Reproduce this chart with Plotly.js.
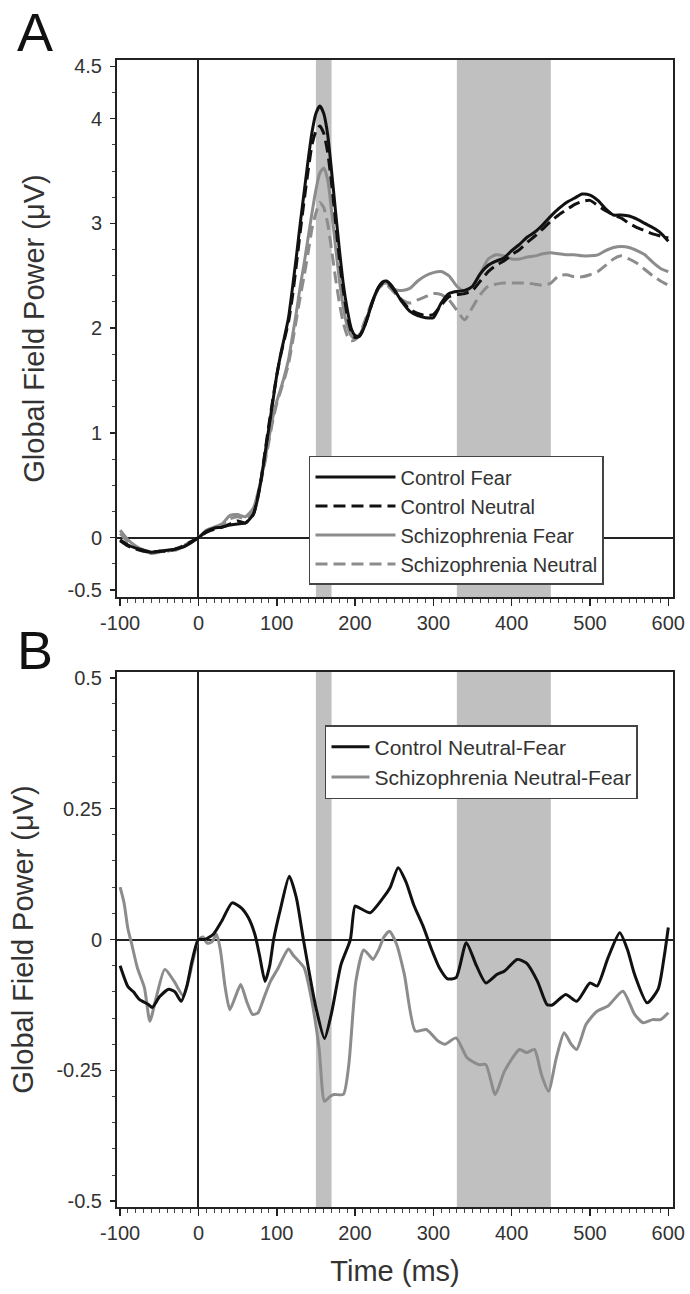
<!DOCTYPE html>
<html>
<head>
<meta charset="utf-8">
<script src="https://cdn.plot.ly/plotly-3.0.1.min.js"></script>
<style>
  html, body { margin: 0; padding: 0; background: #fff; }
  #chart { width: 690px; height: 1294px; }
</style>
</head>
<body>
<div id="chart"></div>
<script>
// ---------- Panel A data (time in ms, GFP in µV) ----------
const timeA = [
  -100,-90,-80,-70,-60,-50,-40,-30,-20,-10,
  0,10,20,30,40,50,60,70,
  75,80,85,90,95,100,105,110,115,120,
  125,130,135,140,145,150,155,160,165,170,
  175,180,185,190,195,200,205,210,215,220,
  225,230,235,240,245,250,
  260,270,280,290,300,310,320,330,340,350,
  360,370,380,390,400,410,420,430,440,450,
  460,470,480,490,500,510,520,530,540,550,
  560,570,580,590,600
];
const controlFear = [
  -0.02,-0.07,-0.10,-0.12,-0.14,-0.13,-0.12,-0.11,-0.09,-0.05,
  0.00,0.06,0.09,0.10,0.12,0.13,0.14,0.22,
  0.35,0.55,0.80,1.05,1.30,1.55,1.75,1.92,2.10,2.38,
  2.68,3.00,3.30,3.60,3.87,4.05,4.12,4.05,3.85,3.50,
  3.12,2.75,2.42,2.18,2.00,1.93,1.92,1.98,2.08,2.20,
  2.31,2.39,2.44,2.45,2.42,2.37,
  2.25,2.16,2.12,2.10,2.10,2.24,2.33,2.35,2.36,2.40,
  2.52,2.60,2.64,2.67,2.74,2.80,2.87,2.92,2.99,3.07,
  3.14,3.20,3.24,3.28,3.27,3.22,3.14,3.08,3.08,3.07,
  3.04,3.00,2.96,2.91,2.83
];
const controlNeutral = [
  -0.03,-0.08,-0.11,-0.13,-0.14,-0.13,-0.13,-0.11,-0.08,-0.04,
  0.00,0.05,0.08,0.10,0.13,0.16,0.14,0.22,
  0.36,0.56,0.82,1.08,1.32,1.55,1.74,1.90,2.06,2.30,
  2.60,2.92,3.22,3.50,3.75,3.88,3.93,3.86,3.68,3.38,
  3.02,2.66,2.36,2.12,1.97,1.91,1.92,1.98,2.08,2.20,
  2.31,2.39,2.43,2.44,2.41,2.36,
  2.26,2.18,2.14,2.12,2.13,2.22,2.30,2.32,2.33,2.36,
  2.45,2.54,2.60,2.64,2.70,2.75,2.82,2.88,2.95,3.02,
  3.08,3.13,3.18,3.21,3.22,3.17,3.12,3.08,3.05,3.00,
  2.96,2.93,2.90,2.88,2.86
];
const schizFear = [
  0.07,-0.02,-0.08,-0.12,-0.15,-0.14,-0.12,-0.12,-0.09,-0.05,
  0.00,0.07,0.10,0.13,0.21,0.22,0.20,0.28,
  0.40,0.56,0.75,0.95,1.15,1.30,1.42,1.55,1.70,1.92,
  2.15,2.40,2.62,2.86,3.10,3.32,3.48,3.53,3.42,3.12,
  2.78,2.46,2.20,2.02,1.93,1.90,1.92,2.00,2.10,2.20,
  2.30,2.38,2.42,2.43,2.40,2.37,
  2.36,2.38,2.45,2.50,2.53,2.54,2.50,2.40,2.35,2.40,
  2.52,2.66,2.70,2.69,2.66,2.66,2.68,2.69,2.71,2.72,
  2.71,2.70,2.70,2.69,2.69,2.70,2.74,2.77,2.78,2.77,
  2.74,2.70,2.63,2.57,2.54
];
const schizNeutral = [
  0.04,-0.04,-0.09,-0.13,-0.15,-0.13,-0.13,-0.11,-0.08,-0.04,
  0.00,0.06,0.09,0.12,0.18,0.20,0.18,0.26,
  0.38,0.54,0.72,0.92,1.12,1.28,1.40,1.52,1.66,1.86,
  2.08,2.30,2.50,2.72,2.95,3.10,3.20,3.15,3.00,2.75,
  2.48,2.24,2.05,1.93,1.88,1.89,1.93,2.02,2.12,2.22,
  2.31,2.38,2.41,2.42,2.38,2.34,
  2.27,2.24,2.27,2.30,2.33,2.32,2.27,2.17,2.08,2.20,
  2.32,2.40,2.42,2.43,2.43,2.43,2.43,2.42,2.41,2.43,
  2.50,2.51,2.49,2.49,2.51,2.54,2.60,2.66,2.69,2.66,
  2.62,2.56,2.50,2.45,2.41
];

// ---------- Panel B data (Neutral - Fear differences) ----------
const timeBControl = [
  -100,-90,-83,-75,-64,-59,-50,-38,-30,-22,-15,-8,0,8,19,30,43,55,64,72,
  78,85,91,96,105,116,125,134,150,161,170,182,194,200,206,219,236,245,255,265,
  275,287,298,308,318,329,342,355,367,381,391,407,419,433,445,452,469,483,500,509,
  523,538,548,557,573,587,595,600
];
const controlDiff = [
  -0.05,-0.09,-0.10,-0.115,-0.124,-0.13,-0.11,-0.095,-0.10,-0.118,-0.09,-0.04,0.0,0.0,0.01,0.036,0.07,0.06,0.041,0.01,
  -0.03,-0.08,-0.05,0.0,0.06,0.121,0.08,0.0,-0.13,-0.189,-0.14,-0.048,0.0,0.064,0.06,0.051,0.08,0.10,0.137,0.11,
  0.066,0.025,-0.02,-0.055,-0.075,-0.073,-0.006,-0.05,-0.083,-0.067,-0.06,-0.038,-0.045,-0.08,-0.124,-0.125,-0.105,-0.118,-0.083,-0.089,
  -0.035,0.013,-0.02,-0.067,-0.121,-0.095,-0.03,0.023
];
const timeBSchiz = [
  -100,-95,-90,-85,-78,-69,-62,-54,-43,-31,-19,-7,0,6,11,17,23,28,34,40,
  47,54,62,69,76,84,92,102,108,115,121,126,135,144,154,161,168,173,185,192,
  201,211,218,223,230,237,244,253,263,277,291,306,315,329,343,358,367,379,391,410,
  419,429,438,447,457,467,476,483,495,509,523,542,557,568,580,590,600
];
const schizDiff = [
  0.10,0.07,0.02,-0.01,-0.054,-0.092,-0.156,-0.111,-0.057,-0.08,-0.108,-0.04,0.0,0.005,-0.007,-0.005,0.01,-0.02,-0.09,-0.134,
  -0.11,-0.086,-0.12,-0.143,-0.14,-0.11,-0.08,-0.054,-0.035,-0.018,-0.03,-0.038,-0.054,-0.111,-0.207,-0.309,-0.30,-0.296,-0.296,-0.239,
  -0.08,-0.02,-0.03,-0.038,-0.02,0.005,0.016,-0.009,-0.067,-0.175,-0.172,-0.194,-0.20,-0.188,-0.226,-0.239,-0.239,-0.296,-0.251,-0.21,
  -0.216,-0.21,-0.258,-0.29,-0.226,-0.178,-0.20,-0.21,-0.162,-0.137,-0.127,-0.099,-0.143,-0.159,-0.153,-0.153,-0.14
];

// ---------- Analysis windows (ms) ----------
const bandStart = [150, 330];
const bandEnd = [170, 450];

// ---------- Text / ticks ----------
const panelLabels = ["A", "B"];
const xTickVals = [-100, 0, 100, 200, 300, 400, 500, 600];
const xTickText = ["-100", "0", "100", "200", "300", "400", "500", "600"];
const yATickVals = [-0.5, 0, 1, 2, 3, 4, 4.5];
const yATickText = ["-0.5", "0", "1", "2", "3", "4", "4.5"];
const yBTickVals = [-0.5, -0.25, 0, 0.25, 0.5];
const yBTickText = ["-0.5", "-0.25", "0", "0.25", "0.5"];
const legendNamesA = ["Control Fear", "Control Neutral", "Schizophrenia Fear", "Schizophrenia Neutral"];
const legendNamesB = ["Control Neutral-Fear", "Schizophrenia Neutral-Fear"];
const yTitle = "Global Field Power (μV)";
const xTitle = "Time (ms)";

// ---------- Styling ----------
const FONT = "Liberation Sans, Arial, sans-serif";
const BLACK = "#111111";
const GRAY = "#8c8c8c";
const TXT = "#333333";

function line(x, y, name, color, dash, width, xa, ya, legend, rank) {
  return {
    type: "scatter", mode: "lines", x: x, y: y, name: name,
    xaxis: xa, yaxis: ya, legend: legend, legendrank: rank,
    line: { color: color, width: width, dash: dash, shape: "spline", smoothing: 0.6 },
    hoverinfo: "skip"
  };
}

const traces = [
  line(timeA, schizNeutral, legendNamesA[3], GRAY, "12px,6px", 3, "x", "y", "legend", 4),
  line(timeA, schizFear, legendNamesA[2], GRAY, "solid", 3, "x", "y", "legend", 3),
  line(timeA, controlNeutral, legendNamesA[1], BLACK, "12px,6px", 3, "x", "y", "legend", 2),
  line(timeA, controlFear, legendNamesA[0], BLACK, "solid", 3, "x", "y", "legend", 1),
  line(timeBSchiz, schizDiff, legendNamesB[1], GRAY, "solid", 3, "x2", "y2", "legend2", 2),
  line(timeBControl, controlDiff, legendNamesB[0], BLACK, "solid", 3, "x2", "y2", "legend2", 1)
];

const shapes = [];
[["x", "y domain"], ["x2", "y2 domain"]].forEach(function (refs) {
  for (let i = 0; i < bandStart.length; i++) {
    shapes.push({
      type: "rect", xref: refs[0], yref: refs[1],
      x0: bandStart[i], x1: bandEnd[i], y0: 0, y1: 1,
      fillcolor: "#c0c0c0", line: { width: 0 }, layer: "below"
    });
  }
});

function xAxis(anchor, showTitle) {
  const ax = {
    anchor: anchor, domain: [0, 1], range: [-104, 606],
    tickmode: "array", tickvals: xTickVals, ticktext: xTickText,
    ticks: "outside", ticklen: 7, tickwidth: 1.5, tickcolor: "#222",
    minor: { dtick: 10, tick0: 0, ticks: "outside", ticklen: 4, tickwidth: 1, tickcolor: "#444", showgrid: false },
    showline: true, mirror: true, linecolor: "#222", linewidth: 2,
    showgrid: false, zeroline: true, zerolinecolor: "#222", zerolinewidth: 2,
    tickfont: { family: FONT, size: 20, color: TXT }, fixedrange: true
  };
  if (showTitle) {
    ax.title = { text: xTitle, font: { family: FONT, size: 29, color: TXT }, standoff: 18 };
  }
  return ax;
}

function yAxis(anchor, domain, range, vals, text, minorDtick) {
  return {
    anchor: anchor, domain: domain, range: range,
    tickmode: "array", tickvals: vals, ticktext: text,
    ticks: "outside", ticklen: 5, tickwidth: 1.5, tickcolor: "#222",
    minor: { dtick: minorDtick, tick0: 0, ticks: "outside", ticklen: 3, tickwidth: 1, tickcolor: "#444", showgrid: false },
    showline: true, mirror: true, linecolor: "#222", linewidth: 2,
    showgrid: false, zeroline: true, zerolinecolor: "#222", zerolinewidth: 2,
    tickfont: { family: FONT, size: 20, color: TXT }, ticklabelstandoff: 4,
    title: { text: yTitle, font: { family: FONT, size: 29, color: TXT }, standoff: 14 },
    fixedrange: true
  };
}

const layout = {
  width: 690, height: 1294,
  margin: { l: 117, r: 17, t: 60, b: 87 },
  paper_bgcolor: "#ffffff", plot_bgcolor: "#ffffff",
  font: { family: FONT, color: TXT },
  xaxis: xAxis("y", false),
  yaxis: yAxis("x", [0.5318, 1], [-0.567, 4.56], yATickVals, yATickText, 0.25),
  xaxis2: xAxis("y2", true),
  yaxis2: yAxis("x2", [0, 0.4664], [-0.511, 0.511], yBTickVals, yBTickText, 0.05),
  shapes: shapes,
  showlegend: true,
  legend: {
    x: 0.3453, y: 0.6548, xanchor: "left", yanchor: "top",
    bgcolor: "#ffffff", bordercolor: "#444", borderwidth: 1.5,
    font: { family: FONT, size: 20, color: TXT }, itemwidth: 80,
    tracegroupgap: 0
  },
  legend2: {
    x: 0.3741, y: 0.4202, xanchor: "left", yanchor: "top",
    bgcolor: "#ffffff", bordercolor: "#444", borderwidth: 1.5,
    font: { family: FONT, size: 21, color: TXT }, itemwidth: 38,
    tracegroupgap: 0
  },
  annotations: [
    { text: panelLabels[0], xref: "paper", yref: "paper", x: -0.1475, y: 1.0244,
      xanchor: "center", yanchor: "middle", showarrow: false,
      font: { family: FONT, size: 54, color: "#111" } },
    { text: panelLabels[1], xref: "paper", yref: "paper", x: -0.1475, y: 0.4855,
      xanchor: "center", yanchor: "middle", showarrow: false,
      font: { family: FONT, size: 54, color: "#111" } }
  ]
};

Plotly.newPlot("chart", traces, layout, { displayModeBar: false, staticPlot: true });
</script>
</body>
</html>
